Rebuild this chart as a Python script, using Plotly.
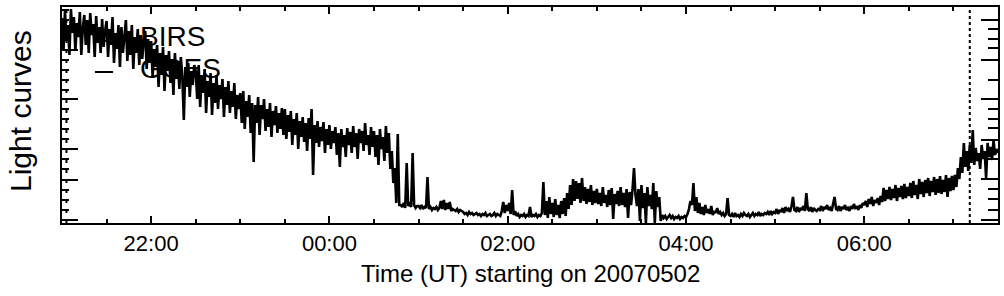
import pandas as pd
import plotly.graph_objects as go

# ---- data (1-minute samples starting 2007-05-02 21:00 UT), arbitrary flux units ----
start_time = "2007-05-02 21:00"
end_time = "2007-05-03 07:30"
flux = [
    205, 172, 212, 182, 198, 168, 214, 190, 206, 172, 200, 186, 211, 168, 195, 208, 178, 203, 170, 210, 188, 199, 166, 207, 180, 196, 170, 204, 176, 192,
    202, 166, 194, 178, 206, 160, 190, 174, 198, 156, 196, 170, 186, 203, 162, 192, 168, 198, 154, 186, 170, 194, 158, 188, 164, 182, 192, 154, 184, 160,
    182, 146, 174, 156, 178, 136, 170, 148, 176, 132, 168, 152, 172, 140, 164, 128, 170, 144, 162, 134, 166, 146, 103, 156, 136, 160, 126, 152, 138, 158,
    152, 124, 158, 116, 148, 130, 154, 110, 142, 126, 150, 108, 140, 120, 148, 114, 138, 124, 144, 106, 136, 118, 142, 110, 132, 116, 140, 104, 128, 114,
    130, 100, 132, 94, 122, 106, 128, 90, 120, 61, 118, 100, 126, 88, 118, 104, 124, 92, 114, 96, 120, 86, 112, 98, 117, 90, 110, 94, 115, 88,
    114, 84, 108, 91, 112, 78, 104, 88, 110, 74, 102, 86, 106, 81, 100, 72, 105, 84, 114, 48, 98, 80, 102, 76, 96, 82, 101, 70, 94, 78,
    98, 74, 92, 80, 96, 68, 90, 56, 94, 76, 88, 66, 95, 78, 91, 70, 97, 76, 90, 64, 94, 80, 92, 72, 100, 78, 88, 68, 96, 76,
    92, 66, 88, 58, 94, 74, 86, 62, 97, 70, 90, 54, 72, 40, 55, 20, 89, 18, 18, 16, 20, 15, 60, 17, 19, 16, 70, 18, 15, 17,
    17, 15, 18, 14, 16, 15, 46, 14, 16, 13, 15, 14, 16, 13, 15, 22, 14, 23, 13, 20, 14, 21, 12, 14, 13, 12, 14, 11, 13, 12,
    11, 9, 10, 8, 11, 9, 10, 8, 9, 10, 8, 9, 7, 9, 8, 10, 7, 8, 9, 7, 8, 10, 7, 9, 8, 7, 12, 21, 10, 18,
    12, 20, 9, 33, 8, 12, 7, 9, 6, 8, 7, 9, 6, 8, 7, 16, 6, 8, 7, 9, 6, 8, 7, 10, 41, 8, 22, 5, 26, 9,
    20, 6, 24, 8, 18, 5, 22, 9, 25, 7, 30, 14, 38, 18, 44, 22, 42, 24, 40, 20, 45, 22, 36, 19, 34, 21, 38, 18, 32, 20,
    34, 19, 30, 17, 36, 20, 28, 16, 33, 18, 35, 4, 29, 19, 32, 17, 36, 18, 30, 16, 34, 5, 31, 18, 33, 55, 28, 17, 34, 2,
    38, 15, 30, 0, 36, 17, 28, 14, 40, 0, 32, 16, 26, 2, 8, 5, 7, 4, 6, 8, 5, 7, 4, 6, 5, 7, 4, 6, 5, 7,
    6, 9, 14, 22, 18, 40, 12, 26, 10, 20, 9, 16, 8, 18, 10, 14, 9, 17, 8, 12, 10, 15, 9, 11, 8, 10, 7, 9, 25, 8,
    7, 9, 6, 10, 7, 8, 6, 9, 7, 10, 8, 7, 9, 6, 8, 10, 7, 9, 8, 11, 7, 9, 8, 10, 9, 11, 8, 12, 9, 11,
    10, 14, 9, 13, 11, 15, 10, 16, 12, 14, 11, 17, 26, 13, 12, 16, 11, 15, 13, 17, 12, 30, 14, 12, 16, 11, 15, 13, 12, 14,
    13, 17, 12, 16, 14, 18, 13, 15, 12, 19, 26, 14, 13, 17, 12, 16, 14, 18, 13, 15, 12, 17, 14, 19, 15, 16, 13, 18, 15, 20,
    18, 22, 16, 24, 19, 26, 17, 23, 20, 25, 18, 27, 21, 35, 22, 33, 24, 36, 23, 34, 25, 38, 22, 35, 26, 37, 24, 39, 25, 36,
    27, 40, 25, 42, 28, 38, 24, 44, 29, 41, 26, 43, 30, 45, 27, 42, 31, 46, 28, 44, 30, 47, 29, 43, 31, 48, 26, 45, 32, 47,
    33, 48, 36, 55, 44, 66, 50, 80, 56, 72, 52, 78, 60, 93, 58, 75, 62, 70, 54, 78, 64, 72, 45, 80, 66, 76, 63, 83, 68, 74, 70,
]
marker_times = ["2007-05-02 21:03", "2007-05-03 07:11"]
legend_labels = ["BIRS", "GOES"]
y_range = [0, 216]
left_major = [173, 124, 74, 43, 3]
left_minor = [213, 203, 193, 183, 163, 153, 143, 133, 114, 104, 94, 84, 64, 54, 33, 23, 13]
right_major = [203, 163, 124, 83, 44, 3]
right_minor = [194, 184, 175, 143, 114, 104, 95, 64, 34, 24, 13]

times = pd.date_range(start_time, periods=len(flux), freq="1min")

FONT = "Liberation Sans, Arial, Helvetica, sans-serif"

fig = go.Figure()
fig.add_trace(go.Scatter(x=times, y=flux, mode="lines",
                         line=dict(color="black", width=2.6, simplify=False),
                         showlegend=False, hoverinfo="skip"))
fig.add_trace(go.Scatter(x=[times[0]], y=[0], yaxis="y2", mode="markers",
                         marker=dict(size=1, opacity=0), showlegend=False,
                         hoverinfo="skip"))

fig.update_layout(
    width=1004, height=296,
    margin=dict(l=62, r=6, t=7, b=73),
    paper_bgcolor="white", plot_bgcolor="white",
    font=dict(family=FONT, color="black"),
    xaxis=dict(
        type="date", range=[start_time, end_time],
        showline=True, linewidth=2, linecolor="black", mirror="ticks",
        ticks="inside", ticklen=7, tickwidth=1.5, tickcolor="black",
        tick0="2007-05-02 22:00", dtick=7200000, tickformat="%H:%M",
        tickfont=dict(size=22, family=FONT, color="black"),
        minor=dict(dtick=1800000, ticks="inside", ticklen=4, tickwidth=1.5,
                   tickcolor="black", showgrid=False),
        showgrid=False, zeroline=False,
    ),
    yaxis=dict(
        range=y_range, showline=True, linewidth=2, linecolor="black",
        ticks="inside", tickmode="array", tickvals=left_major, ticklen=16,
        tickwidth=1.5, tickcolor="black", showticklabels=False,
        minor=dict(tickmode="array", tickvals=left_minor, ticks="inside",
                   ticklen=7, tickwidth=1.5, tickcolor="black", showgrid=False),
        showgrid=False, zeroline=False,
    ),
    yaxis2=dict(
        range=y_range, overlaying="y", side="right",
        showline=True, linewidth=2, linecolor="black",
        ticks="inside", tickmode="array", tickvals=right_major, ticklen=17,
        tickwidth=1.5, tickcolor="black", showticklabels=False,
        minor=dict(tickmode="array", tickvals=right_minor, ticks="inside",
                   ticklen=10, tickwidth=1.5, tickcolor="black", showgrid=False),
        showgrid=False, zeroline=False,
    ),
)

# vertical dotted markers
fig.add_shape(type="line", xref="x", yref="paper", x0=marker_times[0], x1=marker_times[0],
              y0=0, y1=1, line=dict(color="black", width=2, dash="3px,7px"))
fig.add_shape(type="line", xref="x", yref="paper", x0=marker_times[1], x1=marker_times[1],
              y0=0, y1=1, line=dict(color="black", width=2, dash="3px,3px"))

# legend (text + line samples)
for label, ypix_text, ypix_line in [(legend_labels[0], 37, 41), (legend_labels[1], 68, 72)]:
    fig.add_annotation(xref="paper", yref="paper", x=(138 - 62) / 936, y=(223 - ypix_text) / 216,
                       text=label, showarrow=False, xanchor="left", yanchor="middle",
                       font=dict(size=28, family=FONT, color="black"))
    fig.add_shape(type="line", xref="paper", yref="paper",
                  x0=(95 - 62) / 936, x1=(113 - 62) / 936,
                  y0=(223 - ypix_line) / 216, y1=(223 - ypix_line) / 216,
                  line=dict(color="black", width=2))

# axis titles
fig.add_annotation(xref="paper", yref="paper", x=0.5, y=(223 - 273) / 216,
                   text="Time (UT) starting on 20070502", showarrow=False,
                   xanchor="center", yanchor="middle",
                   font=dict(size=24, family=FONT, color="black"))
fig.add_annotation(xref="paper", yref="paper", x=(20 - 62) / 936, y=(223 - 111) / 216,
                   text="Light curves", showarrow=False, textangle=-90,
                   xanchor="center", yanchor="middle",
                   font=dict(size=30, family=FONT, color="black"))

fig.write_html("out.html")
